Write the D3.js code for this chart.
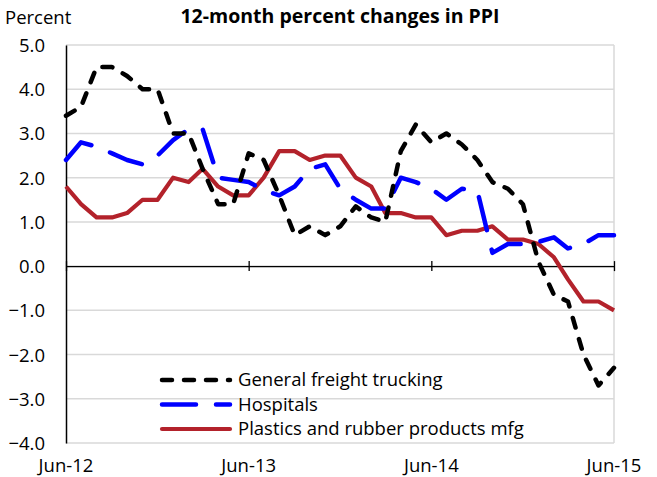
<!DOCTYPE html>
<html lang="en">
<head>
    <meta charset="UTF-8">
    <title>12-month percent changes in PPI</title>
    <script src="https://d3js.org/d3.v7.min.js"></script>
    <style>
        body {
            margin: 0;
            background: #fff;
            font-family: "Open Sans", "Noto Sans", sans-serif;
        }
        .grid line {
            stroke: #d9d9d9;
            stroke-width: 1.5;
        }
        .series {
            fill: none;
            stroke-linejoin: round;
        }
    </style>
</head>
<body>
    <div id="chart"></div>
    <script>
        // months Jun-12 .. Jun-15
        const startMonth = new Date(2012, 5, 1);
        const endMonth = new Date(2015, 5, 1);
        const months = d3.timeMonth.range(startMonth, d3.timeMonth.offset(endMonth, 1));

        const trucking = [3.4, 3.6, 4.5, 4.5, 4.3, 4.0, 4.0, 3.0, 3.0, 2.2, 1.4, 1.4,
            2.55, 2.4, 1.6, 0.7, 0.9, 0.7, 0.9, 1.35, 1.1, 1.0, 2.6, 3.2,
            2.8, 3.0, 2.75, 2.4, 1.9, 1.75, 1.4, 0.1, -0.65, -0.8, -2.0, -2.7, -2.3];
        const hospitals = [2.4, 2.8, 2.7, 2.55, 2.4, 2.3, 2.5, 2.85, 3.1, 3.1, 2.0, 1.95,
            1.9, 1.72, 1.6, 1.8, 2.2, 2.3, 1.75, 1.5, 1.3, 1.3, 2.0, 1.9,
            1.75, 1.5, 1.75, 1.7, 0.3, 0.5, 0.5, 0.55, 0.65, 0.4, 0.5, 0.7, 0.7];
        const plastics = [1.8, 1.4, 1.1, 1.1, 1.2, 1.5, 1.5, 2.0, 1.9, 2.2, 1.8, 1.6,
            1.6, 2.0, 2.6, 2.6, 2.4, 2.5, 2.5, 2.0, 1.8, 1.2, 1.2, 1.1,
            1.1, 0.7, 0.8, 0.8, 0.9, 0.6, 0.6, 0.5, 0.2, -0.3, -0.8, -0.8, -1.0];

        const seriesNames = ["General freight trucking", "Hospitals", "Plastics and rubber products mfg"];
        const yTicks = [5, 4, 3, 2, 1, 0, -1, -2, -3, -4];
        const xTickDates = [new Date(2012, 5, 1), new Date(2013, 5, 1), new Date(2014, 5, 1), new Date(2015, 5, 1)];

        const width = 657, height = 477;
        const plot = { left: 66, right: 614, top: 45, bottom: 443 };

        const svg = d3.select("#chart").append("svg")
            .attr("width", width)
            .attr("height", height);

        const x = d3.scaleTime().domain([startMonth, endMonth]).range([plot.left, plot.right]);
        const y = d3.scaleLinear().domain([-4, 5]).range([plot.bottom, plot.top]);

        // gridlines
        svg.append("g").attr("class", "grid")
            .selectAll("line")
            .data(yTicks)
            .enter().append("line")
            .attr("x1", plot.left)
            .attr("x2", plot.right)
            .attr("y1", d => y(d))
            .attr("y2", d => y(d));

        // right border of plot area
        svg.append("line")
            .attr("x1", plot.right).attr("x2", plot.right)
            .attr("y1", plot.top).attr("y2", plot.bottom)
            .style("stroke", "#d9d9d9")
            .style("stroke-width", 1.5);

        // y axis
        const yAxis = d3.axisLeft(y).tickValues(yTicks).tickFormat(d3.format(".1f")).tickSize(0).tickPadding(21);
        const gy = svg.append("g")
            .attr("transform", `translate(${plot.left},0)`)
            .call(yAxis);
        gy.select(".domain").style("stroke", "#000").style("stroke-width", 1.5);
        gy.selectAll("text")
            .style("font-family", "'Open Sans', sans-serif")
            .style("font-size", "18.5px")
            .style("fill", "#000")
            .attr("dy", "0.35em");

        // x axis at zero
        const xAxis = d3.axisBottom(x).tickValues(xTickDates).tickFormat(() => "").tickSizeInner(5).tickSizeOuter(0);
        const gx = svg.append("g")
            .attr("transform", `translate(0,${y(0)})`)
            .call(xAxis);
        gx.select(".domain").style("stroke", "#000").style("stroke-width", 1.3);
        gx.selectAll(".tick line")
            .attr("y1", -5)
            .attr("y2", 5)
            .style("stroke", "#000")
            .style("stroke-width", 1.3);

        // x tick labels below plot
        svg.append("g").selectAll("text")
            .data(xTickDates)
            .enter().append("text")
            .attr("x", d => x(d))
            .attr("y", 472)
            .attr("text-anchor", "middle")
            .style("font-size", "18.5px")
            .text(d3.timeFormat("%b-%y"));

        // series lines
        const line = d3.line()
            .x((d, i) => x(months[i]))
            .y(d => y(d));

        const styles = [
            { color: "#000000", dash: "10,12", width: 4.5 },
            { color: "#0000ff", dash: "34,20", width: 4.5 },
            { color: "#b3222b", dash: null, width: 4.2 }
        ];
        const allSeries = [trucking, hospitals, plastics];

        // draw plastics first, then hospitals, trucking on top
        [2, 1, 0].forEach(k => {
            svg.append("path")
                .datum(allSeries[k])
                .attr("class", "series")
                .attr("d", line)
                .style("stroke", styles[k].color)
                .style("stroke-width", styles[k].width)
                .style("stroke-dasharray", styles[k].dash)
                .style("stroke-linecap", styles[k].dash ? "round" : "butt");
        });

        // legend
        const legend = svg.append("g");
        seriesNames.forEach((name, i) => {
            const ly = 380 + i * 24.5;
            legend.append("line")
                .attr("x1", 162).attr("x2", 230)
                .attr("y1", ly).attr("y2", ly)
                .style("stroke", styles[i].color)
                .style("stroke-width", styles[i].width)
                .style("stroke-dasharray", styles[i].dash)
                .style("stroke-linecap", "round");
            legend.append("text")
                .attr("x", 238)
                .attr("y", ly)
                .attr("dy", "0.35em")
                .style("font-size", "18.5px")
                .text(name);
        });

        // titles
        svg.append("text")
            .attr("x", 340)
            .attr("y", 23)
            .attr("text-anchor", "middle")
            .style("font-size", "19.5px")
            .style("font-weight", "bold")
            .text("12-month percent changes in PPI");

        svg.append("text")
            .attr("x", 5)
            .attr("y", 24)
            .style("font-size", "18.5px")
            .text("Percent");
    </script>
</body>
</html>
